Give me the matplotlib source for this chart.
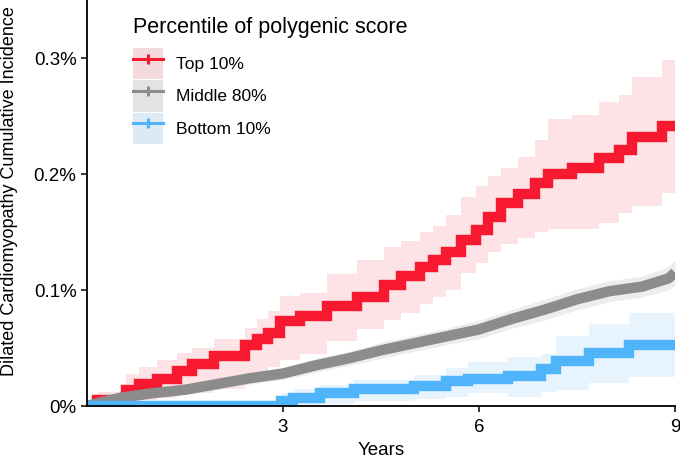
import matplotlib.pyplot as plt
from matplotlib.lines import Line2D
from matplotlib.patches import Patch
from matplotlib.legend_handler import HandlerTuple
from matplotlib.ticker import FuncFormatter

plt.rcParams['font.family'] = ['Liberation Sans', 'DejaVu Sans']

# Kaplan-Meier style cumulative incidence (%)
top_t = [0, 0.15, 0.6, 0.8, 1.07, 1.38, 1.6, 1.95, 2.42, 2.6, 2.77, 2.95, 3.26,
         3.68, 4.14, 4.54, 4.8, 5.1, 5.3, 5.5, 5.72, 5.95, 6.14, 6.34, 6.6,
         6.85, 7.06, 7.42, 7.83, 8.14, 8.34, 8.8, 9.0]
top_mid = [0, 0.005, 0.014, 0.019, 0.023, 0.030, 0.036, 0.043, 0.053, 0.058,
           0.063, 0.073, 0.078, 0.086, 0.094, 0.104, 0.112, 0.120, 0.126, 0.133,
           0.143, 0.152, 0.163, 0.175, 0.183, 0.192, 0.200, 0.205, 0.214, 0.221,
           0.232, 0.241, 0.241]
top_lo = [0, 0.0, 0.002, 0.005, 0.007, 0.010, 0.011, 0.015, 0.020, 0.028,
          0.034, 0.040, 0.045, 0.056, 0.066, 0.074, 0.080, 0.088, 0.094, 0.100,
          0.115, 0.123, 0.133, 0.140, 0.145, 0.150, 0.153, 0.153, 0.158, 0.166,
          0.172, 0.184, 0.184]
top_hi = [0, 0.012, 0.028, 0.034, 0.040, 0.046, 0.050, 0.058, 0.067, 0.075,
          0.082, 0.095, 0.097, 0.114, 0.126, 0.137, 0.142, 0.150, 0.155, 0.165,
          0.180, 0.190, 0.198, 0.205, 0.215, 0.229, 0.247, 0.251, 0.262, 0.268,
          0.284, 0.298, 0.298]

# middle group has so many events that its curve looks smooth
mid_t = [0, 0.2, 0.5, 1.0, 1.5, 2.0, 2.5, 3.0, 3.5, 4.0, 4.5, 5.0, 5.5, 6.0,
         6.5, 7.0, 7.5, 8.0, 8.5, 8.9, 9.0]
mid_mid = [0, 0.003, 0.007, 0.011, 0.014, 0.019, 0.024, 0.028, 0.035, 0.041,
           0.048, 0.054, 0.060, 0.066, 0.075, 0.083, 0.092, 0.099, 0.103, 0.110,
           0.115]
mid_lo = [0, 0.001, 0.004, 0.007, 0.010, 0.014, 0.019, 0.023, 0.029, 0.035,
          0.041, 0.047, 0.053, 0.058, 0.067, 0.074, 0.083, 0.090, 0.094, 0.100,
          0.104]
mid_hi = [0, 0.005, 0.010, 0.015, 0.018, 0.024, 0.029, 0.033, 0.041, 0.047,
          0.055, 0.061, 0.067, 0.074, 0.083, 0.092, 0.101, 0.108, 0.112, 0.120,
          0.126]

bot_t = [0, 2.97, 3.15, 3.57, 4.08, 5.0, 5.5, 5.83, 6.45, 6.95, 7.18, 7.68, 8.3, 9.0]
bot_mid = [0, 0.004, 0.007, 0.011, 0.0145, 0.017, 0.0215, 0.023, 0.026, 0.032,
           0.039, 0.046, 0.053, 0.053]
bot_lo = [0, 0.0, 0.001, 0.002, 0.004, 0.006, 0.008, 0.011, 0.008, 0.012,
          0.014, 0.020, 0.025, 0.025]
bot_hi = [0, 0.011, 0.015, 0.018, 0.022, 0.027, 0.033, 0.038, 0.042, 0.045,
          0.060, 0.071, 0.080, 0.080]

labels = ['Top 10%', 'Middle 80%', 'Bottom 10%']
line_colors = ['#F71930', '#8C8C8C', '#50B4FA']
band_colors = ['#FDE3E6', '#EDEDED', '#E8F4FD']
key_colors = ['#F5DADD', '#E3E3E3', '#DCEAF5']
step_mode = ['post', None, 'post']

series = [(top_t, top_mid, top_lo, top_hi),
          (mid_t, mid_mid, mid_lo, mid_hi),
          (bot_t, bot_mid, bot_lo, bot_hi)]

fig = plt.figure(figsize=(6.8, 4.63), dpi=100)
ax = fig.add_axes([0.1279, 0.1231, 0.8647, 0.8769])

# confidence bands first, then the curves on top
for (t, m, lo, hi), bc, st in zip(series, band_colors, step_mode):
    ax.fill_between(t, lo, hi, step=st, color=bc, lw=0)
for (t, m, lo, hi), lc, st in zip(series, line_colors, step_mode):
    if st:
        ax.step(t, m, where=st, color=lc, lw=7.5, solid_joinstyle='miter',
                solid_capstyle='butt')
    else:
        ax.plot(t, m, color=lc, lw=7.5, solid_capstyle='butt')

ax.set_xlim(0, 9)
ax.set_ylim(0, 0.35)
ax.set_xticks([3, 6, 9])
ax.set_yticks([0, 0.1, 0.2, 0.3])
ax.yaxis.set_major_formatter(FuncFormatter(lambda v, p: f"{v:g}%"))
ax.tick_params(labelsize=13.5, length=4, width=1.1, color='black')
ax.tick_params(axis='x', pad=5)
ax.tick_params(axis='y', pad=3.5)
for s in ['top', 'right']:
    ax.spines[s].set_visible(False)
for s in ['left', 'bottom']:
    ax.spines[s].set_linewidth(1.3)

ax.set_xlabel('Years', fontsize=13.5)
ax.set_ylabel('Dilated Cardiomyopathy Cumulative Incidence', fontsize=13)
ax.yaxis.set_label_coords(-0.118, 0.53)
ax.xaxis.set_label_coords(0.5, -0.088)

fig.text(133 / 680, 1 - 27 / 463, 'Percentile of polygenic score',
         fontsize=15.5, va='center', ha='left')

handles = []
for lc, kc in zip(line_colors, key_colors):
    handles.append((Patch(facecolor=kc, edgecolor='none'),
                    Line2D([], [], color=lc, lw=2.2, marker='|', ms=7.5, mew=2.2)))
leg = ax.legend(handles, labels,
                handler_map={tuple: HandlerTuple(ndivide=1, pad=0)},
                loc='upper left', bbox_to_anchor=(133 / 680, 1 - 48 / 463),
                bbox_transform=fig.transFigure, frameon=False, fontsize=12.5,
                handlelength=1.75, handleheight=2.4,
                labelspacing=0.06, handletextpad=0.75, borderpad=0,
                borderaxespad=0, numpoints=1)

fig.savefig('out.png', dpi=100)
